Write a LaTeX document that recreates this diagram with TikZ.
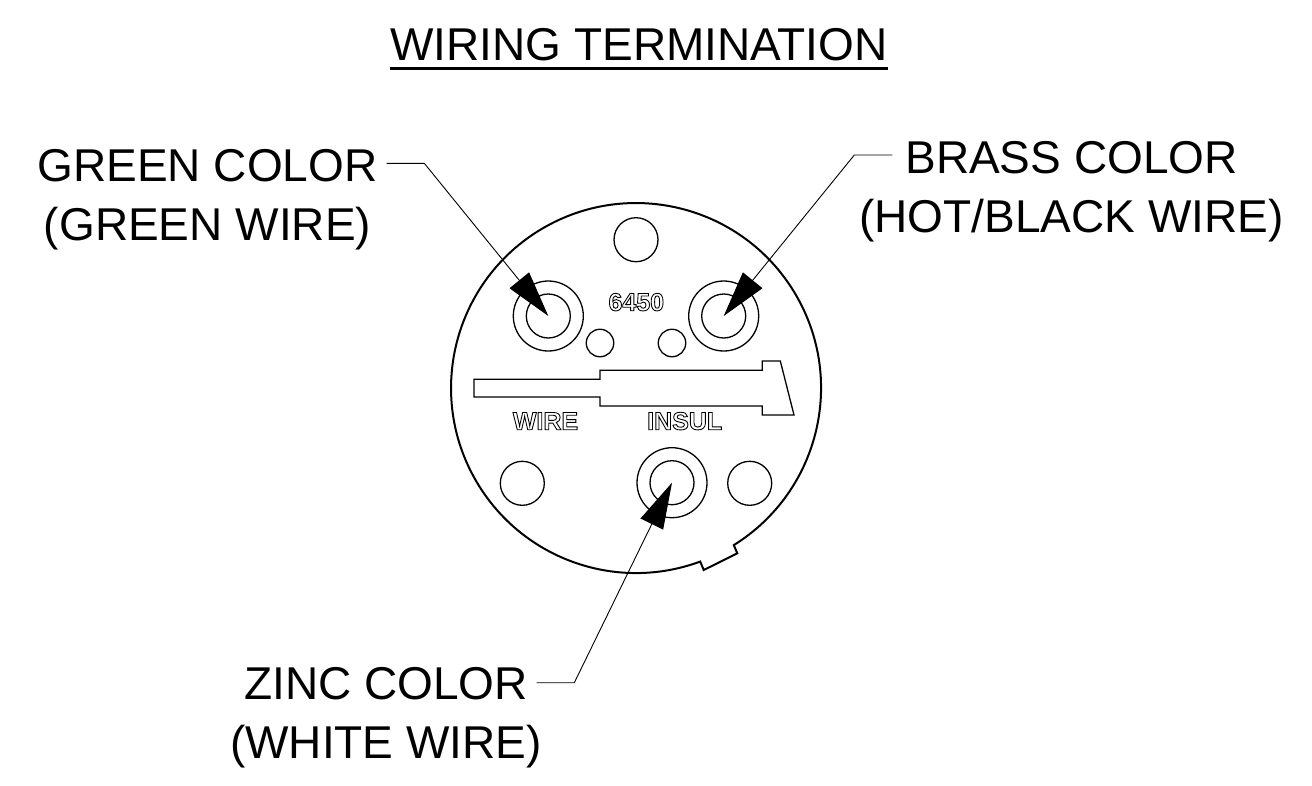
\documentclass[tikz,border=0pt]{standalone}
\usepackage{fontspec}
\setmainfont{Liberation Sans}
\newfontfamily\hollowfont[FakeBold=3.5]{Liberation Sans Bold}
\usetikzlibrary{arrows.meta}
\newcommand{\hollowtext}[1]{\special{pdf:bcolor [1 1 1] [0 0 0]}{\hollowfont\fontsize{25}{25}\selectfont #1}\special{pdf:ecolor}}
\tikzset{
  x=1pt,y=-1pt,
  label text/.style={inner sep=0pt,anchor=base,align=center,font=\fontsize{46}{59}\selectfont},
  hollow label/.style={inner sep=0pt,anchor=base},
  hole/.style={draw,circle,inner sep=0pt,line width=1.3pt,minimum size=#1},
  leader/.style={line width=0.9pt,-{Triangle[length=46pt,width=25pt,fill=black]}},
  outline/.style={line width=2pt},
  thin outline/.style={line width=1.3pt,line join=miter},
}
\begin{document}
\begin{tikzpicture}
\useasboundingbox (0,0) rectangle (1312,785);
% body
\draw[outline] (733.8,545.1) arc[start angle=-58.1,end angle=290.3,radius=185pt] -- (703.7,570) -- (737.3,553.3) -- cycle;
\node[hole=44pt] (top) at (636,239.7) {};
\node[hole=70pt] (lo) at (548.3,316) {};
\node[hole=44pt] (li) at (548.3,316) {};
\node[hole=70pt] (ro) at (723.7,316) {};
\node[hole=44pt] (ri) at (723.7,316) {};
\node[hole=27.5pt] (sl) at (600,343) {};
\node[hole=27.5pt] (sr) at (672,343) {};
\node[hole=70pt] (bo) at (672,482.7) {};
\node[hole=44pt] (bi) at (672,482.7) {};
\node[hole=44pt] (bl) at (522.3,483.3) {};
\node[hole=44pt] (br) at (749.7,483.3) {};
% terminal gauge
\draw[thin outline] (474,379.3) -- (600,379.3) -- (600,370.3) -- (762.3,370.3) -- (762.3,361) -- (780.3,361) -- (794,415) -- (762.3,415) -- (762.3,406) -- (600,406) -- (600,397) -- (474,397) -- cycle;
% embossed labels
\node[hollow label] (n6450) at (636.3,310.7) {\hollowtext{6450}};
\node[hollow label] (nwire) at (545.5,429.7) {\hollowtext{WIRE}};
\node[hollow label] (ninsul) at (684.7,429.7) {\hollowtext{INSUL}};
% title
\node[label text] (title) at (639,60.7) {WIRING TERMINATION};
\draw[line width=3pt] ([yshift=-7.3pt]title.base west) -- ([yshift=-7.3pt]title.base east);
% callouts
\node[label text] (green) at (207.5,240) {GREEN COLOR\\(GREEN WIRE)};
\node[label text] (brass) at (1071.5,232) {BRASS COLOR\\(HOT/BLACK WIRE)};
\node[label text] (zinc) at (386,758) {ZINC COLOR\\(WHITE WIRE)};
\coordinate (g0) at (386.7,163.3);
\coordinate (g1) at (424.3,163.3);
\coordinate (b0) at (892.3,155);
\coordinate (b1) at (854.3,155);
\coordinate (z0) at (536.7,682.7);
\coordinate (z1) at (574.3,682.7);
\draw[leader] (g0) -- (g1) -- (li.center);
\draw[leader] (b0) -- (b1) -- (ri.center);
\draw[leader] (z0) -- (z1) -- (bi.center);
\end{tikzpicture}
\end{document}
